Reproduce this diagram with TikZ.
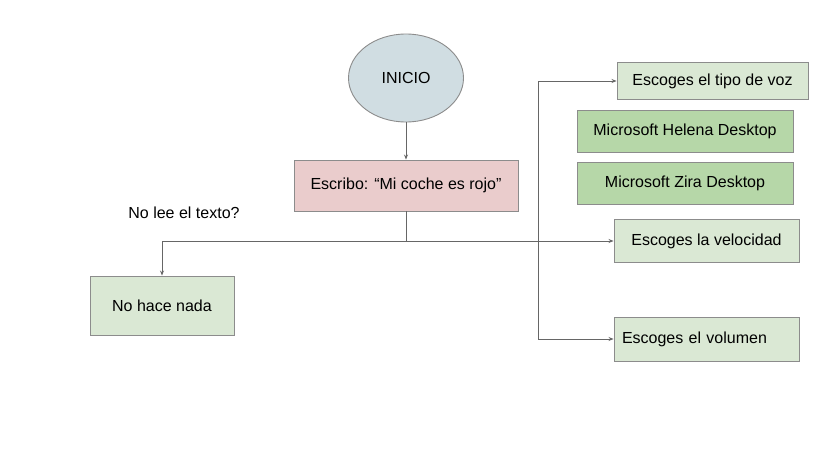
\documentclass[tikz,border=0pt]{standalone}
\usepackage{fontspec}
\setmainfont{Liberation Sans}
\usetikzlibrary{shapes.geometric,arrows.meta}
\definecolor{ellfill}{HTML}{D0DDE2}
\definecolor{pinkfill}{HTML}{EACCCC}
\definecolor{lgreen}{HTML}{DAE8D4}
\definecolor{dgreen}{HTML}{B6D7A8}
\definecolor{edge}{HTML}{8C8C8C}
\definecolor{linec}{HTML}{666666}
\tikzset{
  box/.style={draw=edge, line width=0.9pt, inner sep=0pt, font=\fontsize{16}{18}\selectfont, text=black},
  lbox/.style={box, fill=lgreen},
  dbox/.style={box, fill=dgreen},
  arr/.style={draw=linec, line width=0.9pt, -{Stealth[length=5pt,width=4pt]}},
  ln/.style={draw=linec, line width=0.9pt},
}
\begin{document}
\begin{tikzpicture}[x=1pt,y=-1pt]
\useasboundingbox[fill=white] (0,0) rectangle (814,455);
\node[box, ellipse, fill=ellfill, minimum width=115, minimum height=88] (ini) at (406,78) {INICIO};
\node[box, fill=pinkfill, minimum width=224, minimum height=51] (esc) at (406,185.5) {Escribo: “Mi coche es rojo”};
\node[font=\fontsize{16}{18}\selectfont] (q) at (184,213) {No lee el texto?};
\node[lbox, minimum width=144, minimum height=59] (nada) at (162,305.5) {No hace nada};
\node[lbox, minimum width=191, minimum height=37] (tipo) at (712.5,81) {Escoges el tipo de voz};
\node[dbox, minimum width=216, minimum height=42] (hel) at (685,131) {Microsoft Helena Desktop};
\node[dbox, minimum width=216, minimum height=42] (zir) at (685,183) {Microsoft Zira Desktop};
\node[lbox, minimum width=185, minimum height=43] (velo) at (706.5,241) {Escoges la velocidad};
\node[lbox, minimum height=44, text width=169, inner xsep=8, align=left] (vol) at (706.5,339) {Escoges el volumen};
\coordinate (j) at (406,241);
\coordinate (b1) at (538,81);
\coordinate (b2) at (538,339);
\draw[arr] (ini) -- (esc);
\draw[ln] (esc.south) -- (j);
\draw[arr] (j) -| (nada.north);
\draw[arr] (j) -- (velo.west);
\draw[ln] (b1) -- (b2);
\draw[arr] (b1) -- (tipo.west);
\draw[arr] (b2) -- (vol.west);
\end{tikzpicture}
\end{document}
